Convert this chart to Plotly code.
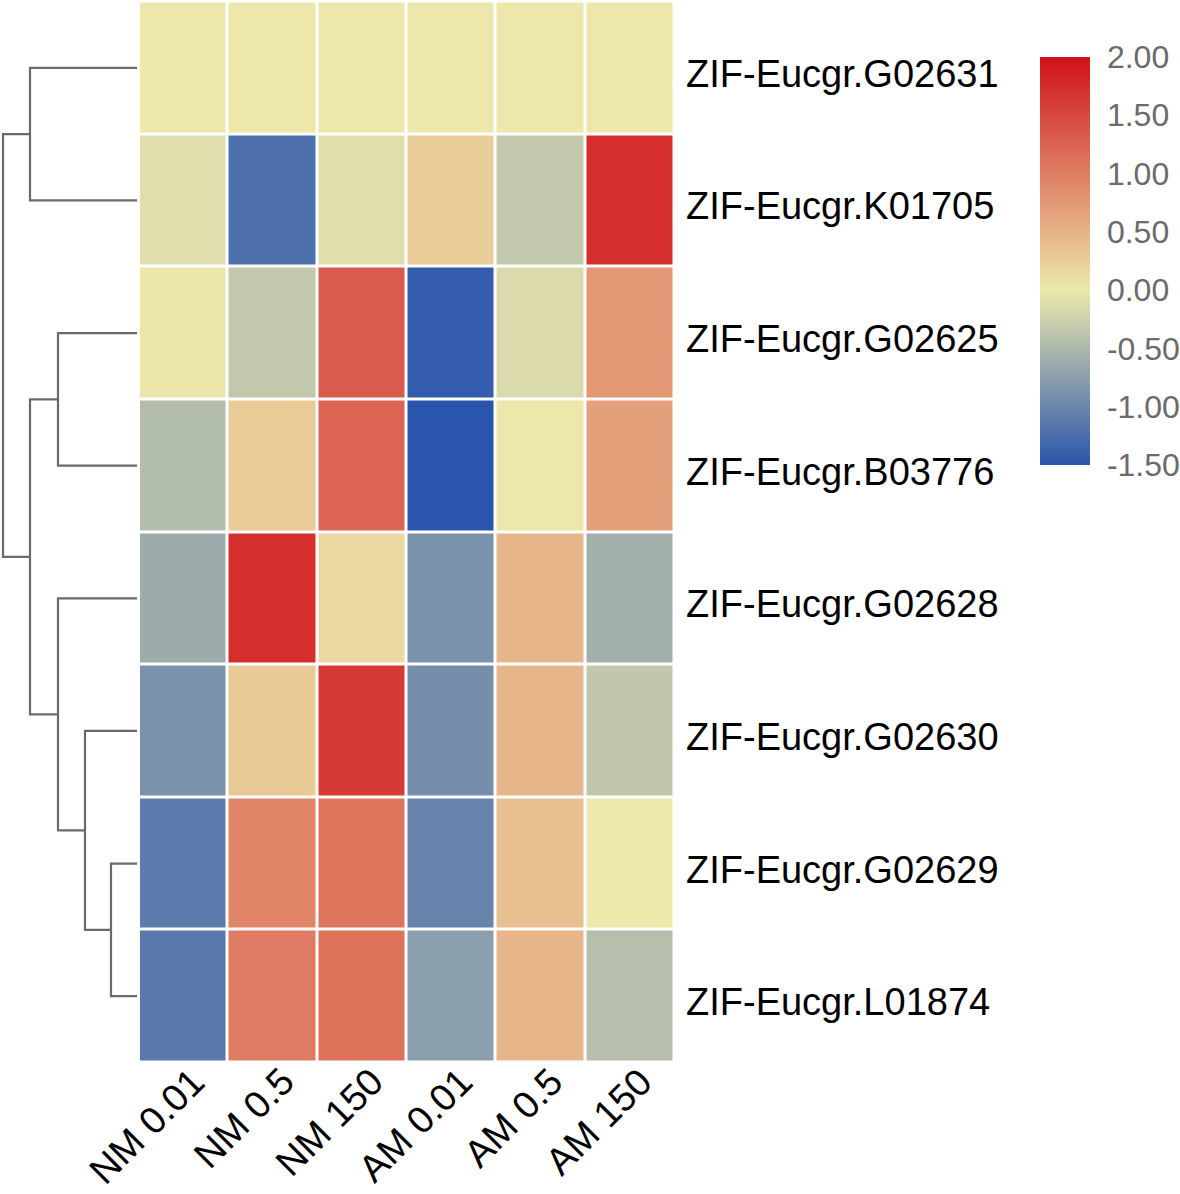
import plotly.graph_objects as go

# ---- data ----
columns = ["NM 0.01", "NM 0.5", "NM 150", "AM 0.01", "AM 0.5", "AM 150"]
genes = ["ZIF-Eucgr.G02631", "ZIF-Eucgr.K01705", "ZIF-Eucgr.G02625", "ZIF-Eucgr.B03776",
         "ZIF-Eucgr.G02628", "ZIF-Eucgr.G02630", "ZIF-Eucgr.G02629", "ZIF-Eucgr.L01874"]
row_G02631 = [0.02, 0.02, 0.02, 0.02, 0.02, 0.02]
row_K01705 = [-0.11, -1.23, -0.10, 0.26, -0.33, 1.74]
row_G02625 = [0.03, -0.33, 1.33, -1.43, -0.15, 0.76]
row_B03776 = [-0.45, 0.28, 1.23, -1.50, 0.02, 0.68]
row_G02628 = [-0.62, 1.74, 0.15, -0.88, 0.47, -0.58]
row_G02630 = [-0.88, 0.30, 1.63, -0.92, 0.47, -0.34]
row_G02629 = [-1.11, 0.93, 1.08, -1.02, 0.39, 0.00]
row_L01874 = [-1.14, 1.02, 1.11, -0.76, 0.47, -0.43]
z = [row_G02631, row_K01705, row_G02625, row_B03776,
     row_G02628, row_G02630, row_G02629, row_L01874]

# row dendrogram merges: (member_a, member_b, height, new_cluster_name)
merges = [
    ("ZIF-Eucgr.G02629", "ZIF-Eucgr.L01874", 26, "F"),
    ("ZIF-Eucgr.G02630", "F", 52, "E"),
    ("ZIF-Eucgr.G02628", "E", 79, "D"),
    ("ZIF-Eucgr.G02625", "ZIF-Eucgr.B03776", 79, "C"),
    ("C", "D", 107, "B"),
    ("ZIF-Eucgr.G02631", "ZIF-Eucgr.K01705", 107, "A"),
    ("A", "B", 134, "root"),
]
cbar_ticks = [-1.5, -1.0, -0.5, 0.0, 0.5, 1.0, 1.5, 2.0]
cbar_labels = [f"{v:.2f}" for v in cbar_ticks]

zmin, zmax = -1.5, 2.0
blue, mid, red = "#2a55ac", "#ede9ac", "#d0121a"
colorscale = [[0, blue], [(0 - zmin) / (zmax - zmin), mid], [1, red]]

W, H = 1180, 1194
font_fam = "Liberation Sans, Arial, sans-serif"

fig = go.Figure()
fig.add_trace(go.Heatmap(
    z=z, x=list(range(len(columns))), y=list(range(len(genes))),
    colorscale=colorscale, zmin=zmin, zmax=zmax, xgap=3, ygap=3,
    colorbar=dict(
        x=1040 / W, xanchor="left", y=1 - 261 / H, yanchor="middle",
        xpad=0, ypad=0,
        thickness=50, thicknessmode="pixels", len=408, lenmode="pixels",
        outlinewidth=0, tickvals=cbar_ticks, ticktext=cbar_labels,
        ticks="outside", ticklen=11, tickcolor="rgba(0,0,0,0)",
        tickfont=dict(size=32, color="#6b6b6b", family=font_fam),
    ),
))

# dendrogram
pos = {g: float(i) for i, g in enumerate(genes)}
hgt = {g: 0.0 for g in genes}
for a, b, h, name in merges:
    ya, yb = pos[a], pos[b]
    fig.add_trace(go.Scatter(
        x=[hgt[a], h, h, hgt[b]], y=[ya, ya, yb, yb], mode="lines",
        line=dict(color="#6a6a6a", width=2.2), xaxis="x2", yaxis="y",
        showlegend=False, hoverinfo="skip"))
    pos[name] = (ya + yb) / 2
    hgt[name] = h

# row labels (right of heatmap)
for i, g in enumerate(genes):
    fig.add_annotation(x=684 / W, xref="paper", y=i, yref="y", text=g,
                       showarrow=False, xanchor="left", yanchor="middle", yshift=-6,
                       font=dict(size=38, color="black", family=font_fam))
# column labels (rotated, below heatmap)
for j, c in enumerate(columns):
    fig.add_annotation(x=j, xref="x", y=1 - 1059 / H, yref="paper", text=c,
                       textangle=-45, showarrow=False, xanchor="right", yanchor="top",
                       xshift=31, borderpad=0,
                       font=dict(size=38, color="black", family=font_fam))

fig.update_layout(
    width=W, height=H, margin=dict(l=0, r=0, t=0, b=0, autoexpand=False),
    plot_bgcolor="white", paper_bgcolor="white",
    font=dict(family=font_fam, color="black"),
    xaxis=dict(domain=[138.5 / W, 674.5 / W], range=[-0.5, len(columns) - 0.5],
               showticklabels=False, showgrid=False, zeroline=False,
               ticks="", automargin=False, anchor="y"),
    yaxis=dict(domain=[1 - 1062.5 / H, 1 - 1.5 / H], range=[len(genes) - 0.5, -0.5],
               showticklabels=False, showgrid=False, zeroline=False,
               ticks="", automargin=False, anchor="x"),
    xaxis2=dict(domain=[0, 140 / W], range=[137, -3], showgrid=False, zeroline=False,
                showticklabels=False, ticks="", anchor="y"),
)
fig.write_html("out.html", config={"displayModeBar": False},
               post_script="document.body.style.margin='0';document.body.style.overflow='hidden';")
